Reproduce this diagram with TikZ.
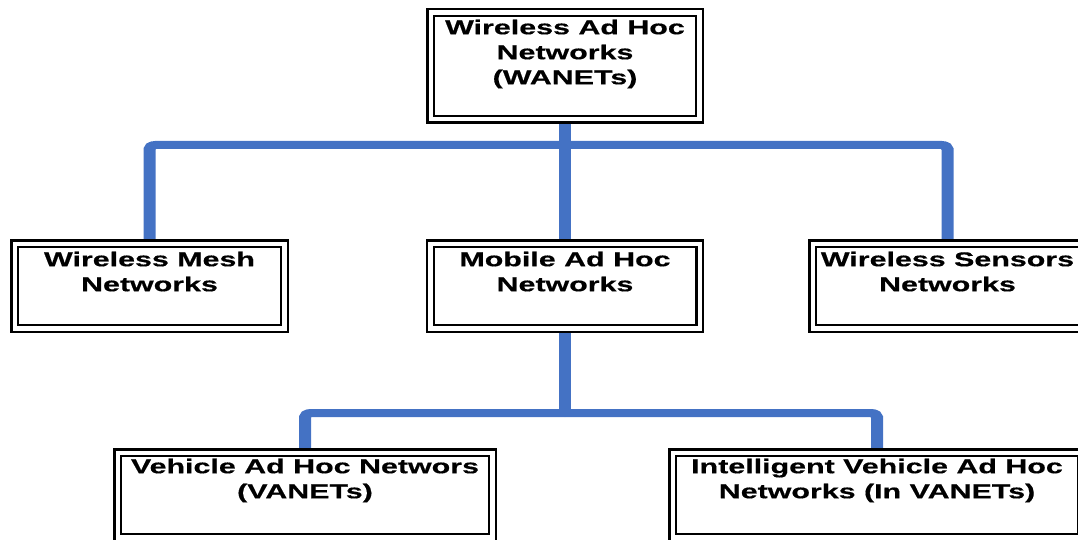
\documentclass[tikz,border=0pt]{standalone}
\usepackage{fontspec}
\setmainfont{Liberation Sans}[FakeStretch=1.52, BoldFeatures={FakeBold=0.5}]
\usepackage{tikz}
\usetikzlibrary{positioning, backgrounds, calc}
\definecolor{linkblue}{HTML}{4472C4}

\tikzset{
    netbox/.style={draw, double, line width=2.4pt, double distance=4.5pt, fill=white,
        minimum width=#1, minimum height=84.5pt, inner sep=0pt},
    netlabel/.style={align=center, inner sep=0pt, font=\fontsize{20}{25}\selectfont\bfseries},
    link/.style={linkblue, line width=8pt, rounded corners=4pt, line cap=round}
}

\begin{document}
\begin{tikzpicture}[x=1pt, y=-1pt]
        \useasboundingbox (0, 0) rectangle (1078, 540);
        % boxes
        \node [netbox=268.5pt, minimum height=106.5pt] (wanet) at (565, 66) {};
        \node [netbox=269.5pt] (mesh) at (149.5, 286) {};
        \node [netbox=269.5pt] (manet) at (565, 286) {};
        \node [netbox=269.5pt] (sensor) at (947.5, 286) {};
        \node [netbox=374.5pt] (vanet) at (305, 495) {};
        \node [netbox=408.5pt] (invanet) at (877, 495) {};
        % titles, set at the top of each box
        \node [netlabel, below=8pt of wanet.north] (wanet-text) {Wireless Ad Hoc\\Networks\\(WANETs)};
        \node [netlabel, below=9pt of mesh.north] (mesh-text) {Wireless Mesh\\Networks};
        \node [netlabel, below=9pt of manet.north] (manet-text) {Mobile Ad Hoc\\Networks};
        \node [netlabel, below=9pt of sensor.north] (sensor-text) {Wireless Sensors\\Networks};
        \node [netlabel, below=7pt of vanet.north] (vanet-text) {Vehicle Ad Hoc Networs\\(VANETs)};
        \node [netlabel, below=7pt of invanet.north] (invanet-text) {Intelligent Vehicle Ad Hoc\\Networks (In VANETs)};
        % tree links, widened sideways like the lettering
        \coordinate (hubA) at (565, 145);
        \coordinate (hubB) at (565, 413);
        \begin{scope}[on background layer]
        \begin{scope}[transform canvas={xscale=1.5}]
            \draw [link] let \p1=(wanet.south), \p2=(manet.north) in
                (\x1/1.5, \y1) -- (\x2/1.5, \y2);
            \draw [link] let \p1=(mesh.north), \p2=(hubA), \p3=(sensor.north) in
                (\x1/1.5, \y1) |- (\x2/1.5, \y2) -| (\x3/1.5, \y3);
            \draw [link] let \p1=(manet.south), \p2=(hubB) in
                (\x1/1.5, \y1) -- (\x2/1.5, \y2);
            \draw [link] let \p1=(vanet.north), \p2=(hubB), \p3=(invanet.north) in
                (\x1/1.5, \y1) |- (\x2/1.5, \y2) -| (\x3/1.5, \y3);
        \end{scope}
        \end{scope}
    \end{tikzpicture}
\end{document}
